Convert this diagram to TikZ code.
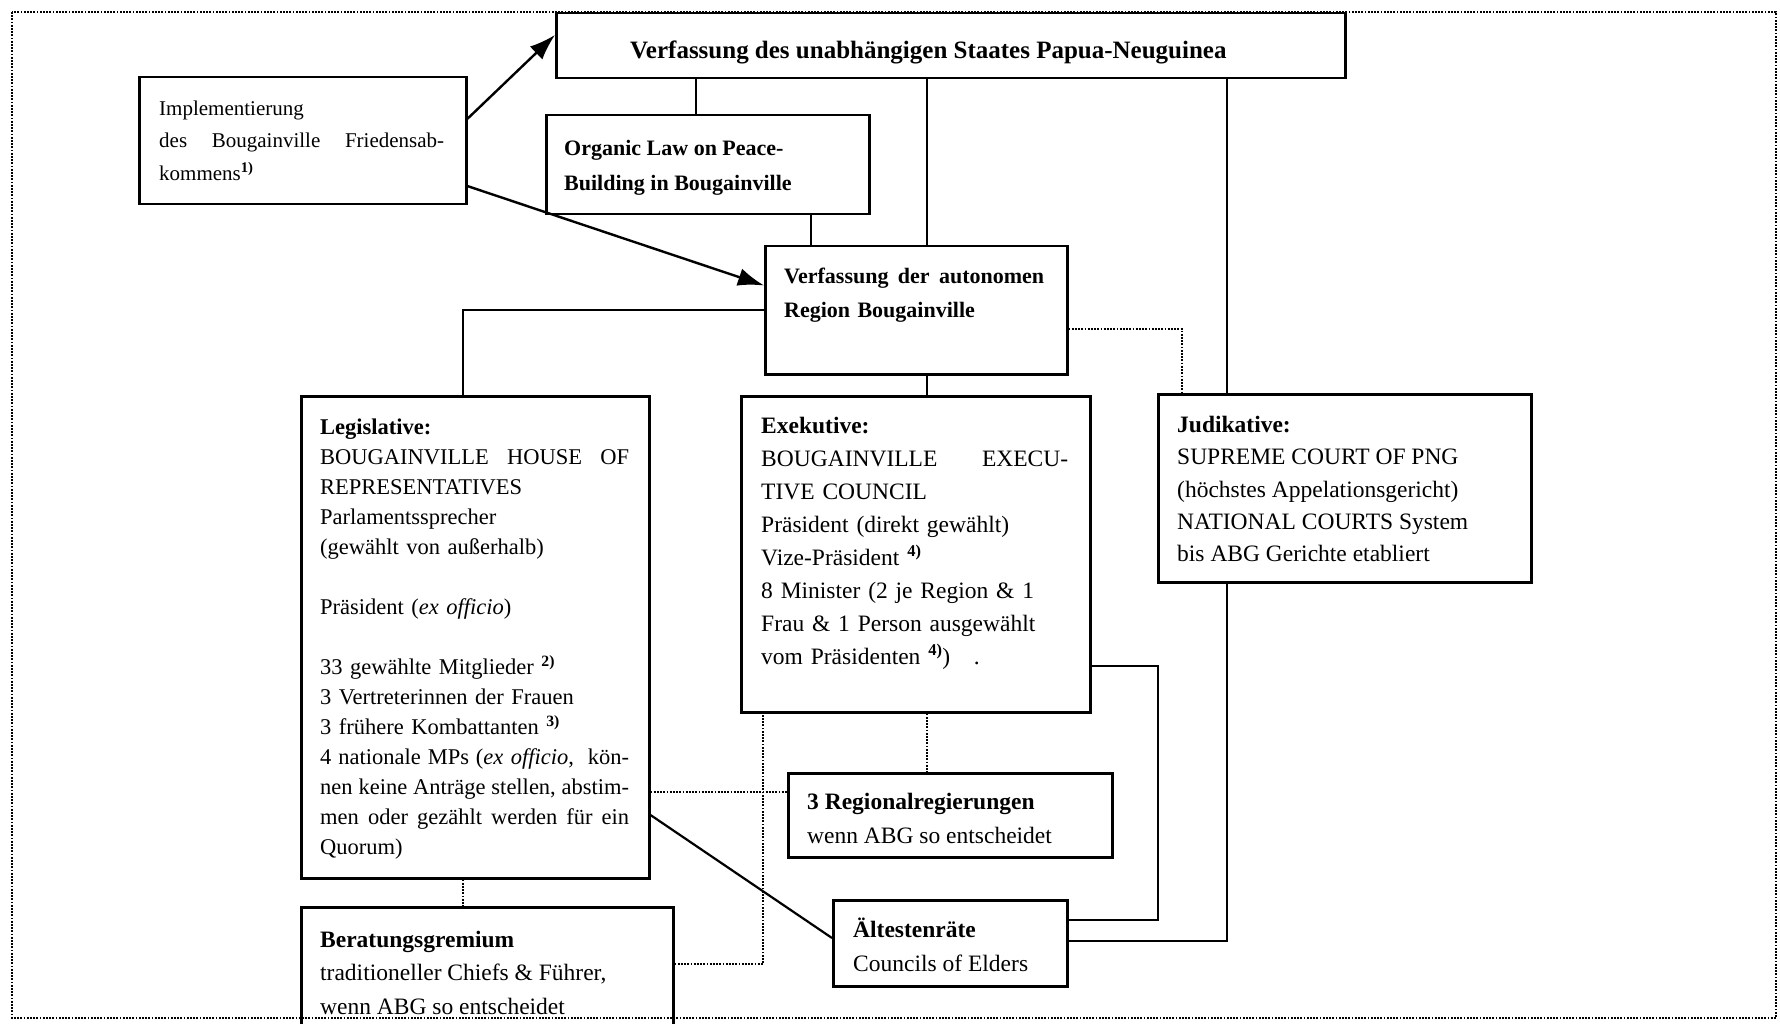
\documentclass[tikz,border=0pt]{standalone}
\usepackage{fontspec}
\setmainfont{Liberation Serif}
\usetikzlibrary{arrows.meta,calc}
\newcommand{\jl}[2]{\leavevmode\hbox to #1{#2}}
\newcommand{\fnote}[1]{\textsuperscript{\bfseries #1)}}
\newcommand{\fl}{\rule{0pt}{20pt}}
\begin{document}
\begin{tikzpicture}[x=1pt,y=-1pt,
  box/.style={draw=black, line width=2.5pt, rectangle, inner sep=0pt, anchor=north west},
  txt/.style={anchor=north west, inner sep=0pt, align=left},
  conn/.style={line width=2.2pt},
  dotl/.style={line width=2pt, dash pattern=on 1.8pt off 1.4pt},
  arr/.style={line width=2.4pt, -{Latex[length=26pt,width=18pt]}}]
\useasboundingbox (0,0) rectangle (1780,1024);
\clip (0,0) rectangle (1780,1024);
\fill[white] (0,0) rectangle (1780,1024);
\draw[dotl, line width=1.8pt] (12,12) rectangle (1776,1018);

% boxes
\node[box, minimum width=789pt, minimum height=65pt] (top) at (555,12) {};
\node[box, minimum width=327pt, minimum height=127pt] (impl) at (138,76) {};
\node[box, minimum width=323pt, minimum height=99pt] (org) at (545,114) {};
\node[box, minimum width=302pt, minimum height=128pt] (aut) at (764,245) {};
\node[box, minimum width=348pt, minimum height=482pt] (leg) at (300,395) {};
\node[box, minimum width=349pt, minimum height=316pt] (exe) at (740,395) {};
\node[box, minimum width=373pt, minimum height=188pt] (jud) at (1157,393) {};
\node[box, minimum width=324pt, minimum height=84pt] (reg) at (787,772) {};
\node[box, minimum width=234pt, minimum height=86pt] (elt) at (832,899) {};
\node[box, minimum width=372pt, minimum height=140pt] (ber) at (300,906) {};

% texts
\node[anchor=base west, inner sep=0pt, font=\fontsize{25}{30}\selectfont\bfseries] (toptxt) at (630,59)
  {Verfassung des unabhängigen Staates Papua-Neuguinea};
\node[txt, text width=285pt, font=\fontsize{21}{32.5}\selectfont] (impltxt) at (159,95)
  {\fl Implementierung\\ \jl{285pt}{des\hfill Bougainville\hfill Friedensab-}\\ kommens\fnote{1}};
\node[txt, font=\fontsize{22}{35}\selectfont\bfseries] (orgtxt) at (564,135)
  {\fl Organic Law on Peace-\\ Building in Bougainville};
\node[txt, text width=260pt, font=\fontsize{22}{34}\selectfont\bfseries] (auttxt) at (784,263)
  {\fl\jl{260pt}{Verfassung\hfill der\hfill autonomen}\\ Region Bougainville};
\node[txt, text width=309pt, font=\fontsize{22.5}{30}\selectfont] (legtxt) at (320,414)
  {\fl\textbf{Legislative:}\\
   \jl{309pt}{BOUGAINVILLE\hfill HOUSE\hfill OF}\\
   REPRESENTATIVES\\
   Parlamentssprecher\\
   (gewählt von außerhalb)\\
   \mbox{}\\
   Präsident (\textit{ex officio})\\
   \mbox{}\\
   33 gewählte Mitglieder \fnote{2}\\
   3 Vertreterinnen der Frauen\\
   3 frühere Kombattanten \fnote{3}\\
   \jl{309pt}{4\hfill nationale\hfill MPs\hfill (\textit{ex officio},\hfill\hfill kön-}\\
   \jl{309pt}{nen\hfill keine\hfill Anträge\hfill stellen,\hfill abstim-}\\
   \jl{309pt}{men\hfill oder\hfill gezählt\hfill werden\hfill für\hfill ein}\\
   Quorum)};
\node[txt, text width=307pt, font=\fontsize{23.5}{33}\selectfont] (exetxt) at (761,413)
  {\fl\textbf{Exekutive:}\\
   \jl{307pt}{BOUGAINVILLE\hfill EXECU-}\\
   TIVE COUNCIL\\
   Präsident (direkt gewählt)\\
   Vize-Präsident \fnote{4}\\
   8 Minister (2 je Region \& 1\\
   Frau \& 1 Person ausgewählt\\
   vom Präsidenten \fnote{4}) \ \ .};
\node[txt, font=\fontsize{23.5}{32.4}\selectfont] (judtxt) at (1177,412)
  {\fl\textbf{Judikative:}\\
   SUPREME COURT OF PNG\\
   (höchstes Appelationsgericht)\\
   NATIONAL COURTS System\\
   bis ABG Gerichte etabliert};
\node[txt, font=\fontsize{23.5}{34}\selectfont] (regtxt) at (807,789)
  {\fl\textbf{3 Regionalregierungen}\\ wenn ABG so entscheidet};
\node[txt, font=\fontsize{23.5}{34}\selectfont] (elttxt) at (853,917)
  {\fl\textbf{Ältestenräte}\\ Councils of Elders};
\node[txt, font=\fontsize{23.5}{33.5}\selectfont] (bertxt) at (320,927)
  {\fl\textbf{Beratungsgremium}\\ traditioneller Chiefs \& Führer,\\ wenn ABG so entscheidet};

% helper coordinates
\coordinate (xa) at (696,0);
\coordinate (xb) at (811,0);
\coordinate (xc) at (927,0);
\coordinate (xd) at (1227,0);
\coordinate (yd) at (0,941);
\coordinate (l1) at (463,310);
\coordinate (j1) at (1182,329);
\coordinate (e1) at (1158,666);
\coordinate (e2) at (1158,920);
\coordinate (r1) at (0,792);
\coordinate (b1) at (763,964);
\coordinate (d1) at (0,815);
\coordinate (d2) at (0,938);

% arrows
\draw[arr] ($(impl.north east)!0.33!(impl.south east)$) -- ($(top.north west)!0.34!(top.south west)$);
\draw[arr] ($(impl.north east)!0.85!(impl.south east)$) -- ($(aut.north west)!0.31!(aut.south west)$);

% solid connectors
\draw[conn] (top.south -| xa) -- (org.north -| xa);
\draw[conn] (org.south -| xb) -- (aut.north -| xb);
\draw[conn] (top.south -| xc) -- (aut.north -| xc);
\draw[conn] (top.south -| xd) -- (jud.north -| xd);
\draw[conn] (jud.south -| xd) -- (xd |- yd) -- (elt.east |- yd);
\draw[conn] (aut.west |- l1) -- (l1) -- (leg.north -| l1);
\draw[conn] (aut.south -| xc) -- (exe.north -| xc);
\draw[conn] (exe.east |- e1) -- (e1) -- (e2) -- (elt.east |- e2);
\draw[conn] (leg.east |- d1) -- (elt.west |- d2);

% dotted connectors
\draw[dotl] (aut.east |- j1) -- (j1) -- (jud.north -| j1);
\draw[dotl] (exe.south -| xc) -- (reg.north -| xc);
\draw[dotl] (leg.east |- r1) -- (reg.west |- r1);
\draw[dotl] (leg.south -| l1) -- (ber.north -| l1);
\draw[dotl] (ber.east |- b1) -- (b1) -- (exe.south -| b1);
\end{tikzpicture}
\end{document}
